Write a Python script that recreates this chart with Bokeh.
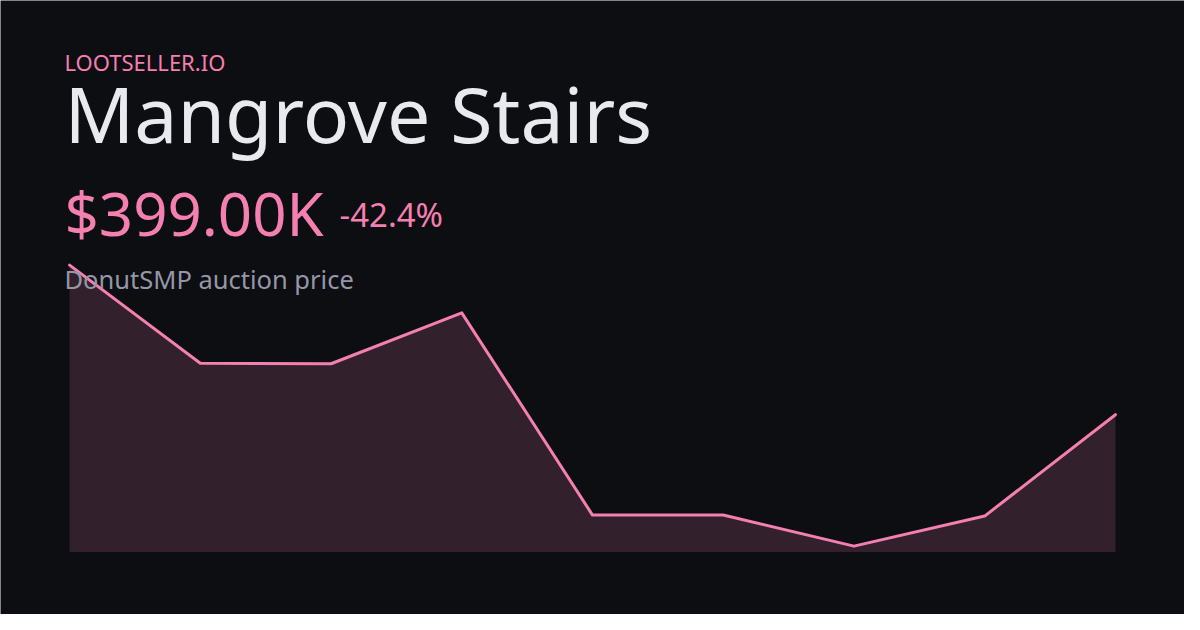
from bokeh.plotting import figure
from bokeh.models import Label, Range1d, ColumnDataSource
from bokeh.embed import file_html
from bokeh.resources import INLINE

points = [0, 1, 2, 3, 4, 5, 6, 7, 8]
prices_k = [692.7, 500, 499, 599, 202, 202, 141, 200, 399]
baseline_k = 129.5

brand = "LOOTSELLER.IO"
item_name = "Mangrove Stairs"
price_label = "$399.00K"
change_label = "-42.4%"
subtitle = "DonutSMP auction price"

BG = "#0d0e12"
PINK = "#f47fb0"
FILL = "#32202c"
WHITE = "#e9eaef"
GRAY = "#9597a9"
FONT = "Noto Sans"

W, H = 1184, 614

p = figure(width=W, height=H, output_backend="svg", toolbar_location=None,
           x_range=Range1d(-0.5284, 8.5284), y_range=Range1d(6.8, 1212.1),
           min_border=0, background_fill_color=BG, border_fill_color=BG,
           outline_line_color=None)
p.axis.visible = False
p.grid.visible = False

src = ColumnDataSource(dict(x=points, y=prices_k, base=[baseline_k] * len(points)))
p.varea(x="x", y1="base", y2="y", source=src, fill_color=FILL)
p.line(x="x", y="y", source=src, line_color=PINK, line_width=3, line_join="round", line_cap="round")

def lab(text, x, baseline_from_top, size, color):
    y_top = baseline_from_top - 0.425 * size
    p.add_layout(Label(x=x, y=H - y_top, x_units="screen", y_units="screen", text=text,
                       text_font=FONT, text_font_size=f"{size}px", text_color=color,
                       text_baseline="alphabetic", text_align="left"))

lab(brand, 64, 71, 22, PINK)
lab(item_name, 64, 146, 77, WHITE)
lab(price_label, 64, 238, 60, PINK)
lab(change_label, 339, 228, 33, PINK)
lab(subtitle, 64, 289.5, 25.5, GRAY)

open("out.html", "w").write(file_html(p, INLINE))
